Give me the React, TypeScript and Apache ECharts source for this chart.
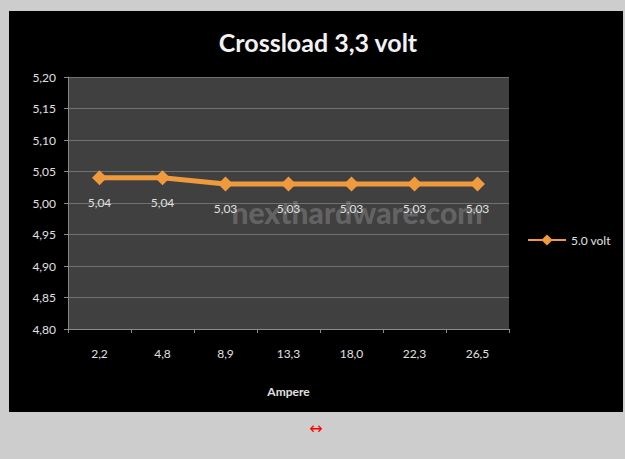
import React, { useEffect, useRef } from "react";
import * as echarts from "echarts";

const categories = ["2,2", "4,8", "8,9", "13,3", "18,0", "22,3", "26,5"];
const seriesName = "5.0 volt";
const values = [5.04, 5.04, 5.03, 5.03, 5.03, 5.03, 5.03];
const yMin = 4.8;
const yMax = 5.2;
const yStep = 0.05;
const titleText = "Crossload 3,3 volt";
const xAxisName = "Ampere";
const watermark = "nexthardware.com";

const comma = (v: number) => v.toFixed(2).replace(".", ",");
const FONT = "Lato, 'Open Sans', sans-serif";

export default function App() {
  const ref = useRef<HTMLDivElement>(null);
  useEffect(() => {
    document.body.style.margin = "0";
    const chart = echarts.init(ref.current!, undefined, { renderer: "svg" });
    chart.setOption({
      animation: false,
      backgroundColor: "#cdcdcd",
      textStyle: { fontFamily: FONT },
      graphic: [
        {
          type: "rect",
          z: -10,
          shape: { x: 9, y: 11, width: 614, height: 401 },
          style: { fill: "#000000" },
          silent: true,
        },
        {
          type: "text",
          x: 318,
          y: 42,
          style: {
            text: titleText,
            fill: "#f2f2f2",
            font: `bold 25px ${FONT}`,
            textAlign: "center",
            textVerticalAlign: "middle",
          },
        },
        {
          type: "text",
          x: 357,
          y: 212,
          z: 1,
          style: {
            text: watermark,
            fill: "rgba(255,255,255,0.2)",
            font: `900 30px ${FONT}`,
            textAlign: "center",
            textVerticalAlign: "middle",
          },
        },
        {
          type: "text",
          x: 316,
          y: 428,
          style: {
            text: "↔",
            fill: "#ff0000",
            font: `16px 'DejaVu Sans', sans-serif`,
            textAlign: "center",
            textVerticalAlign: "middle",
          },
        },
      ],
      grid: {
        left: 68,
        top: 77,
        right: 116,
        bottom: 130,
        show: true,
        backgroundColor: "#404040",
        borderWidth: 0,
      },
      legend: {
        left: 522,
        top: 229,
        itemWidth: 38,
        itemHeight: 14,
        itemGap: 4,
        data: [seriesName],
        textStyle: { color: "#e0e0e0", fontSize: 12, fontFamily: FONT },
      },
      xAxis: {
        type: "category",
        data: categories,
        boundaryGap: true,
        name: xAxisName,
        nameLocation: "middle",
        nameGap: 56,
        nameTextStyle: { color: "#e0e0e0", fontSize: 12, fontWeight: "bold", fontFamily: FONT },
        axisLine: { lineStyle: { color: "#8a8a8a", width: 1 } },
        axisTick: { show: true, length: 4, lineStyle: { color: "#8a8a8a" } },
        axisLabel: { color: "#e0e0e0", fontSize: 12, margin: 18, fontFamily: FONT },
      },
      yAxis: {
        type: "value",
        min: yMin,
        max: yMax,
        interval: yStep,
        axisLine: { show: true, lineStyle: { color: "#8a8a8a", width: 1 } },
        axisTick: { show: true, length: 4, lineStyle: { color: "#8a8a8a" } },
        axisLabel: { color: "#e0e0e0", fontSize: 12, margin: 12, formatter: (v: number) => comma(v), fontFamily: FONT },
        splitLine: { show: true, lineStyle: { color: "#707070", width: 1 } },
      },
      series: [
        {
          name: seriesName,
          type: "line",
          data: values,
          z: 3,
          symbol: "diamond",
          symbolSize: 15,
          itemStyle: { color: "#f09a3e" },
          lineStyle: { color: "#f09a3e", width: 5 },
          label: {
            show: true,
            position: "bottom",
            distance: 11,
            color: "#e0e0e0",
            fontSize: 12,
            fontFamily: FONT,
            formatter: (p: any) => comma(p.value),
          },
        },
      ],
    });
    return () => chart.dispose();
  }, []);
  return <div ref={ref} style={{ width: 625, height: 459 }} />;
}
